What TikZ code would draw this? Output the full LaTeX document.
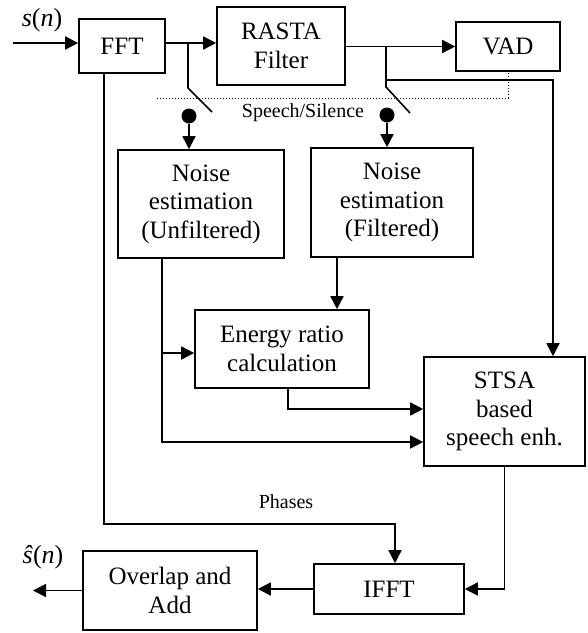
\documentclass[tikz,border=0pt]{standalone}
\usepackage{fontspec}
\setmainfont{Liberation Serif}
\usetikzlibrary{arrows.meta}
\begin{document}
\begin{tikzpicture}[x=1pt,y=-1pt,
  box/.style={draw,line width=1.6pt,align=center,inner sep=0pt,font=\fontsize{25}{28.5}\selectfont},
  arr/.style={line width=1.6pt,-{Triangle[length=13pt,width=13pt]}},
  ln/.style={line width=1.6pt},
  ball/.style={circle,fill,inner sep=0pt,minimum size=15pt},
  small/.style={font=\fontsize{20}{23}\selectfont,inner sep=0pt},
  lbl/.style={font=\fontsize{26}{30}\selectfont,inner sep=0pt}]
\useasboundingbox (0,0) rectangle (588,633);
% nodes
\node[box,minimum width=86,minimum height=54] (fft) at (122,46) {FFT};
\node[box,minimum width=128,minimum height=78] (rasta) at (281,46) {RASTA\\Filter};
\node[box,minimum width=104,minimum height=49] (vad) at (508,46.5) {VAD};
\node[box,minimum width=166,minimum height=108] (unf) at (201,204) {Noise\\estimation\\(Unfiltered)};
\node[box,minimum width=162,minimum height=109] (filt) at (392,202.5) {Noise\\estimation\\(Filtered)};
\node[box,minimum width=174,minimum height=78] (energy) at (282,349) {Energy ratio\\calculation};
\node[box,minimum width=161,minimum height=109] (stsa) at (504.5,411.5) {STSA\\based\\speech enh.};
\node[box,minimum width=150,minimum height=50] (ifft) at (389,589) {IFFT};
\node[box,minimum width=174,minimum height=79] (ola) at (170,590.5) {Overlap and\\Add};
\node[lbl] (sn) at (42,20) {\textit{s}(\textit{n})};
\node[lbl] (shat) at (43,557) {\textit{ŝ}(\textit{n})};
\node[small] (ss) at (303,113) {Speech/Silence};
\node[small] (ph) at (286,502) {Phases};
\node[ball] (k1) at (189,116) {};
\node[ball] (k2) at (387,115) {};
% coordinates
\coordinate (in) at (13,43);
\coordinate (b1) at (188,43);
\coordinate (s1a) at (188,88);
\coordinate (s1b) at (212,112);
\coordinate (b2) at (386,47);
\coordinate (s2a) at (386,87);
\coordinate (s2b) at (410,113);
\coordinate (c4) at (553,80);
\coordinate (d0) at (157,98);
\coordinate (b3) at (162,353);
\coordinate (c1) at (162,442);
\coordinate (c2) at (288,409);
\coordinate (c3) at (337,300);
\coordinate (p1) at (104,524);
\coordinate (p2) at (395,524);
\coordinate (out) at (33,586);
% connectors
\draw[arr] (in) -- (fft.west |- in);
\draw[arr] (fft.east |- b1) -- (rasta.west |- b1);
\draw[arr] (rasta.east |- vad) -- (vad.west);
\draw[ln] (b1) -- (s1a) -- (s1b);
\draw[ln] (b2) -- (s2a) -- (s2b);
\draw[arr] (b2 |- c4) -- (c4) -- (stsa.north -| c4);
\draw[dotted,line width=1pt] (d0) -- (d0 -| vad.south) -- (vad.south);
\draw[arr] (k1) -- (unf.north -| k1);
\draw[arr] (k2) -- (filt.north -| k2);
\draw[arr] (filt.south -| c3) -- (energy.north -| c3);
\draw[arr] (unf.south -| c1) -- (c1) -- (stsa.west |- c1);
\draw[arr] (b3) -- (energy.west |- b3);
\draw[arr] (energy.south -| c2) -- (c2) -- (stsa.west |- c2);
\draw[arr] (fft.south -| p1) -- (p1) -- (p2) -- (ifft.north -| p2);
\draw[arr] (stsa.south) -- (stsa.south |- ifft) -- (ifft.east);
\draw[arr] (ifft.west) -- (ola.east |- ifft.west);
\draw[arr] (ola.west) -- (out |- ola.west);
\end{tikzpicture}
\end{document}
